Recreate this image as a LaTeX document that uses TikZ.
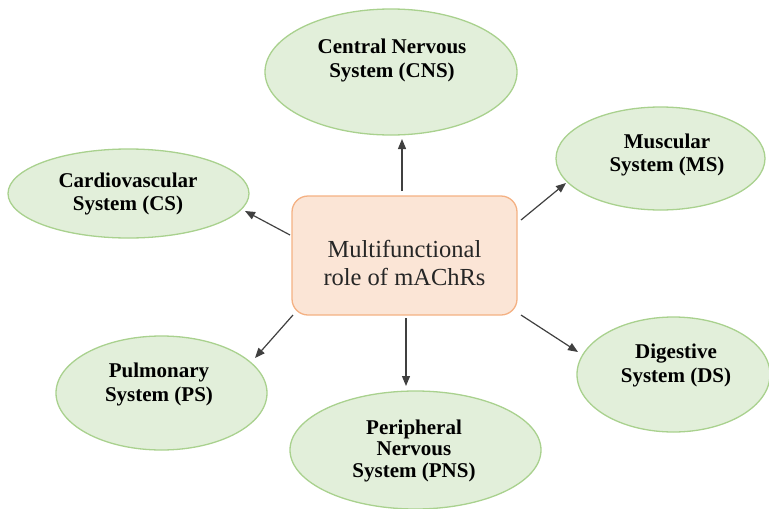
\documentclass[tikz,border=0pt]{standalone}
\usepackage{fontspec}
\setmainfont{Liberation Serif}
\usetikzlibrary{shapes.geometric,arrows.meta}
\definecolor{ellfill}{HTML}{E2EFDA}
\definecolor{elldraw}{HTML}{A9D18E}
\definecolor{boxfill}{HTML}{FBE5D6}
\definecolor{boxdraw}{HTML}{F4B183}
\definecolor{arrcol}{HTML}{404040}
\begin{document}
\begin{tikzpicture}[x=1pt,y=-1pt,
 sysell/.style={ellipse, draw=elldraw, fill=ellfill, line width=1.3pt, inner sep=0pt},
 mainbox/.style={rectangle, rounded corners=16pt, draw=boxdraw, fill=boxfill, line width=1.3pt, minimum width=225pt, minimum height=119pt, inner sep=0pt},
 systxt/.style={align=center, font=\bfseries\fontsize{21}{23.5}\selectfont, text=black, inner sep=0pt},
 maintxt/.style={align=center, font=\fontsize{24.5}{28}\selectfont, text=black!85, inner sep=0pt},
 arr/.style={draw=arrcol, line width=1.2pt, -{Triangle[length=10pt,width=8pt]}}]
\useasboundingbox (0,0) rectangle (769,509);

\node[mainbox] (box) at (404.5,255.5) {};
\node[maintxt] (boxt) at (404.5,262.8) {Multifunctional\\role of mAChRs};

\node[sysell, minimum width=252pt, minimum height=126pt] (cns) at (391,72) {};
\node[sysell, minimum width=209pt, minimum height=103pt] (ms) at (660.5,158.5) {};
\node[sysell, minimum width=241pt, minimum height=89pt] (cs) at (128.5,193.5) {};
\node[sysell, minimum width=211pt, minimum height=114pt] (ps) at (161.5,393) {};
\node[sysell, minimum width=251pt, minimum height=118pt] (pns) at (415.5,450) {};
\node[sysell, minimum width=193pt, minimum height=115pt] (ds) at (673.5,374.5) {};

\node[systxt] (cnst) at (392,60.3) {Central Nervous\\System (CNS)};
\node[systxt] (mst) at (667,154.8) {Muscular\\System (MS)};
\node[systxt] (cst) at (128,193.8) {Cardiovascular\\System (CS)};
\node[systxt] (pst) at (159,384.3) {Pulmonary\\System (PS)};
\node[systxt, font=\bfseries\fontsize{21}{21.5}\selectfont] (pnst) at (414,450.8) {Peripheral\\Nervous\\System (PNS)};
\node[systxt] (dst) at (676,365.3) {Digestive\\System (DS)};

\draw[arr] ([shift={(-2.5,-64.5)}]box.center) -- ([shift={(11,67)}]cns.center);
\draw[arr] ([shift={(116.5,-35.5)}]box.center) -- ([shift={(-94.5,24.5)}]ms.center);
\draw[arr] ([shift={(-114.5,-20.5)}]box.center) -- ([shift={(116.5,17.5)}]cs.center);
\draw[arr] ([shift={(-111.5,59.5)}]box.center) -- ([shift={(93.5,-35)}]ps.center);
\draw[arr] ([shift={(1.5,62.5)}]box.center) -- ([shift={(-9.5,-64)}]pns.center);
\draw[arr] ([shift={(116.5,59.5)}]box.center) -- ([shift={(-95.5,-22.5)}]ds.center);
\end{tikzpicture}
\end{document}
